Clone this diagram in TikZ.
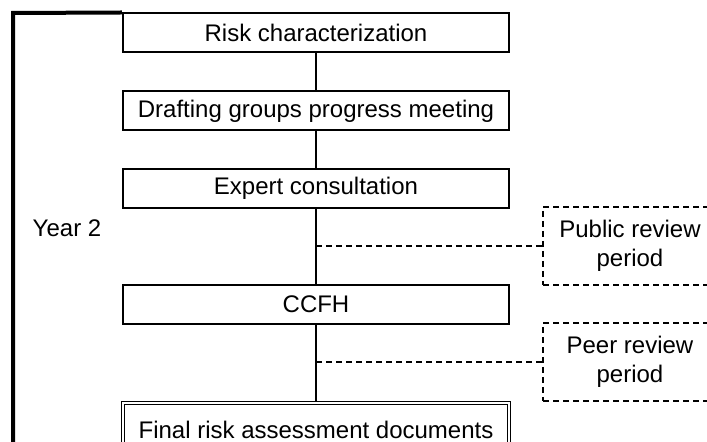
\documentclass[tikz,border=0pt]{standalone}
\usepackage{fontspec}
\setmainfont{Liberation Sans}
\usepackage{tikz}

\begin{document}
\begin{tikzpicture}[x=0.5pt,y=-0.5pt,
    font=\fontsize{12}{14.5}\selectfont,
    stage/.style={draw, line width=1pt, minimum width=193pt, minimum height=19.5pt, inner sep=0pt},
    final/.style={draw, line width=0.5pt, double, double distance=1pt, minimum width=193pt, minimum height=27pt, inner sep=0pt},
    review/.style={draw, dash pattern=on 3pt off 2pt, line width=1pt, minimum width=87pt, minimum height=39pt, align=center, inner sep=0pt},
    link/.style={line width=1pt},
    dlink/.style={line width=1pt, dash pattern=on 3pt off 2pt}]
    \clip (0,0) rectangle (707,442);
    \node[stage] (risk) at (316,33) {Risk characterization};
    \node[stage] (draft) at (316,111) {Drafting groups progress meeting};
    \node[stage] (expert) at (316,188.5) {Expert consultation};
    \node[stage] (ccfh) at (316,304.5) {CCFH};
    \node[final] (docs) at (316,430) {Final risk assessment documents};
    \node[review] (public) at (630,246) {Public review\\period};
    \node[review] (peer) at (630,362) {Peer review\\period};
    \node (year) at (67,228) {Year 2};
    \draw[link] (risk) -- (draft);
    \draw[link] (draft) -- (expert);
    \draw[link] (expert) -- (ccfh);
    \draw[link] (ccfh) -- (docs);
    \coordinate (j1) at (expert.south |- public.west);
    \coordinate (j2) at (ccfh.south |- peer.west);
    \draw[dlink] (j1) -- (public.west);
    \draw[dlink] (j2) -- (peer.west);
    % year bracket
    \coordinate (top) at (13,13);
    \draw[line width=2pt] (risk.north west) -- (top) -- (13,450);
\end{tikzpicture}
\end{document}
